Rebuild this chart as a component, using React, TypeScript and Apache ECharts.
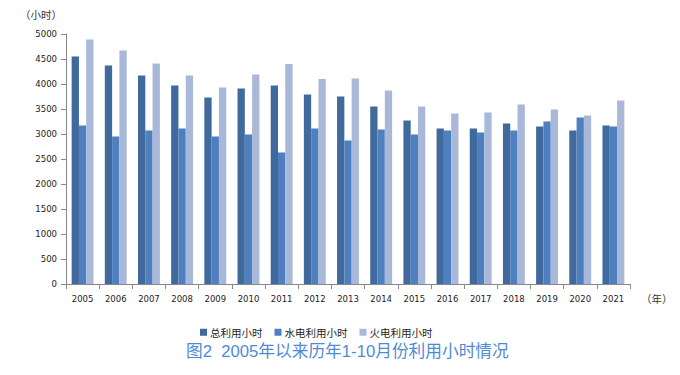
import React, { useEffect, useRef } from "react";
import * as echarts from "echarts";

const years = ["2005","2006","2007","2008","2009","2010","2011","2012","2013","2014","2015","2016","2017","2018","2019","2020","2021"];
const totalHours = [4550,4370,4170,3970,3730,3910,3970,3790,3750,3550,3270,3110,3110,3210,3150,3070,3170];
const hydroHours = [3170,2950,3070,3110,2950,2990,2630,3110,2870,3090,2990,3070,3030,3070,3250,3330,3150];
const thermalHours = [4890,4670,4410,4170,3930,4190,4400,4100,4110,3870,3550,3410,3430,3590,3490,3370,3670];
const seriesNames = ["总利用小时", "水电利用小时", "火电利用小时"];
const yTicks = [0, 500, 1000, 1500, 2000, 2500, 3000, 3500, 4000, 4500, 5000];

export default function App() {
  const ref = useRef<HTMLDivElement>(null);
  useEffect(() => {
    if (!ref.current) return;
    const chart = echarts.init(ref.current, null, { renderer: "svg" });
    const colors = ["#40699E", "#4E7FBE", "#A9B8D8"];
    const dataSets = [totalHours, hydroHours, thermalHours];
    chart.setOption({
      animation: false,
      backgroundColor: "#ffffff",
      color: colors,
      grid: { left: 66, right: 50, top: 34, bottom: 91, containLabel: false },
      legend: {
        data: seriesNames,
        left: 195,
        top: 322,
        itemWidth: 7,
        itemHeight: 7,
        itemGap: 12,
        icon: "rect",
        textStyle: { fontSize: 10.5, color: "#222", fontFamily: "Noto Sans CJK SC", padding: [0, 0, 0, -2] },
      },
      xAxis: {
        type: "category",
        data: years,
        axisLine: { show: true, lineStyle: { color: "#888", width: 1 } },
        axisTick: { show: true, alignWithLabel: false, length: 5, lineStyle: { color: "#888" } },
        axisLabel: { fontSize: 8.5, color: "#222", fontFamily: "DejaVu Sans", margin: 10 },
      },
      yAxis: {
        type: "value",
        min: 0,
        max: 5000,
        interval: 500,
        splitLine: { show: false },
        axisLine: { show: true, lineStyle: { color: "#888", width: 1 } },
        axisTick: { show: true, inside: false, length: 5, lineStyle: { color: "#888" } },
        axisLabel: {
          fontSize: 8.5,
          color: "#222",
          fontFamily: "DejaVu Sans",
          margin: 9,
          formatter: (v: number) => (yTicks.includes(v) ? String(v) : ""),
        },
      },
      graphic: [
        { type: "text", left: 20, top: 9, style: { text: "（小时）", fontSize: 10.5, fill: "#333", fontFamily: "Noto Sans CJK SC" } },
        { type: "text", left: 641, top: 293, style: { text: "（年）", fontSize: 10.5, fill: "#333", fontFamily: "Noto Sans CJK SC" } },
        {
          type: "text",
          left: 186,
          top: 343,
          style: {
            text: "图2  2005年以来历年1-10月份利用小时情况",
            fontSize: 16.7,
            fill: "#4F8AD8",
            fontFamily: "Liberation Sans, Noto Sans CJK SC",
          },
        },
      ],
      series: dataSets.map((d, i) => ({
        name: seriesNames[i],
        type: "bar",
        data: d,
        barWidth: 7.3,
        barGap: "0%",
        itemStyle: { color: colors[i] },
      })),
    });
    return () => chart.dispose();
  }, []);
  return <div ref={ref} style={{ width: 680, height: 375, position: "absolute", left: 0, top: 0 }} />;
}
